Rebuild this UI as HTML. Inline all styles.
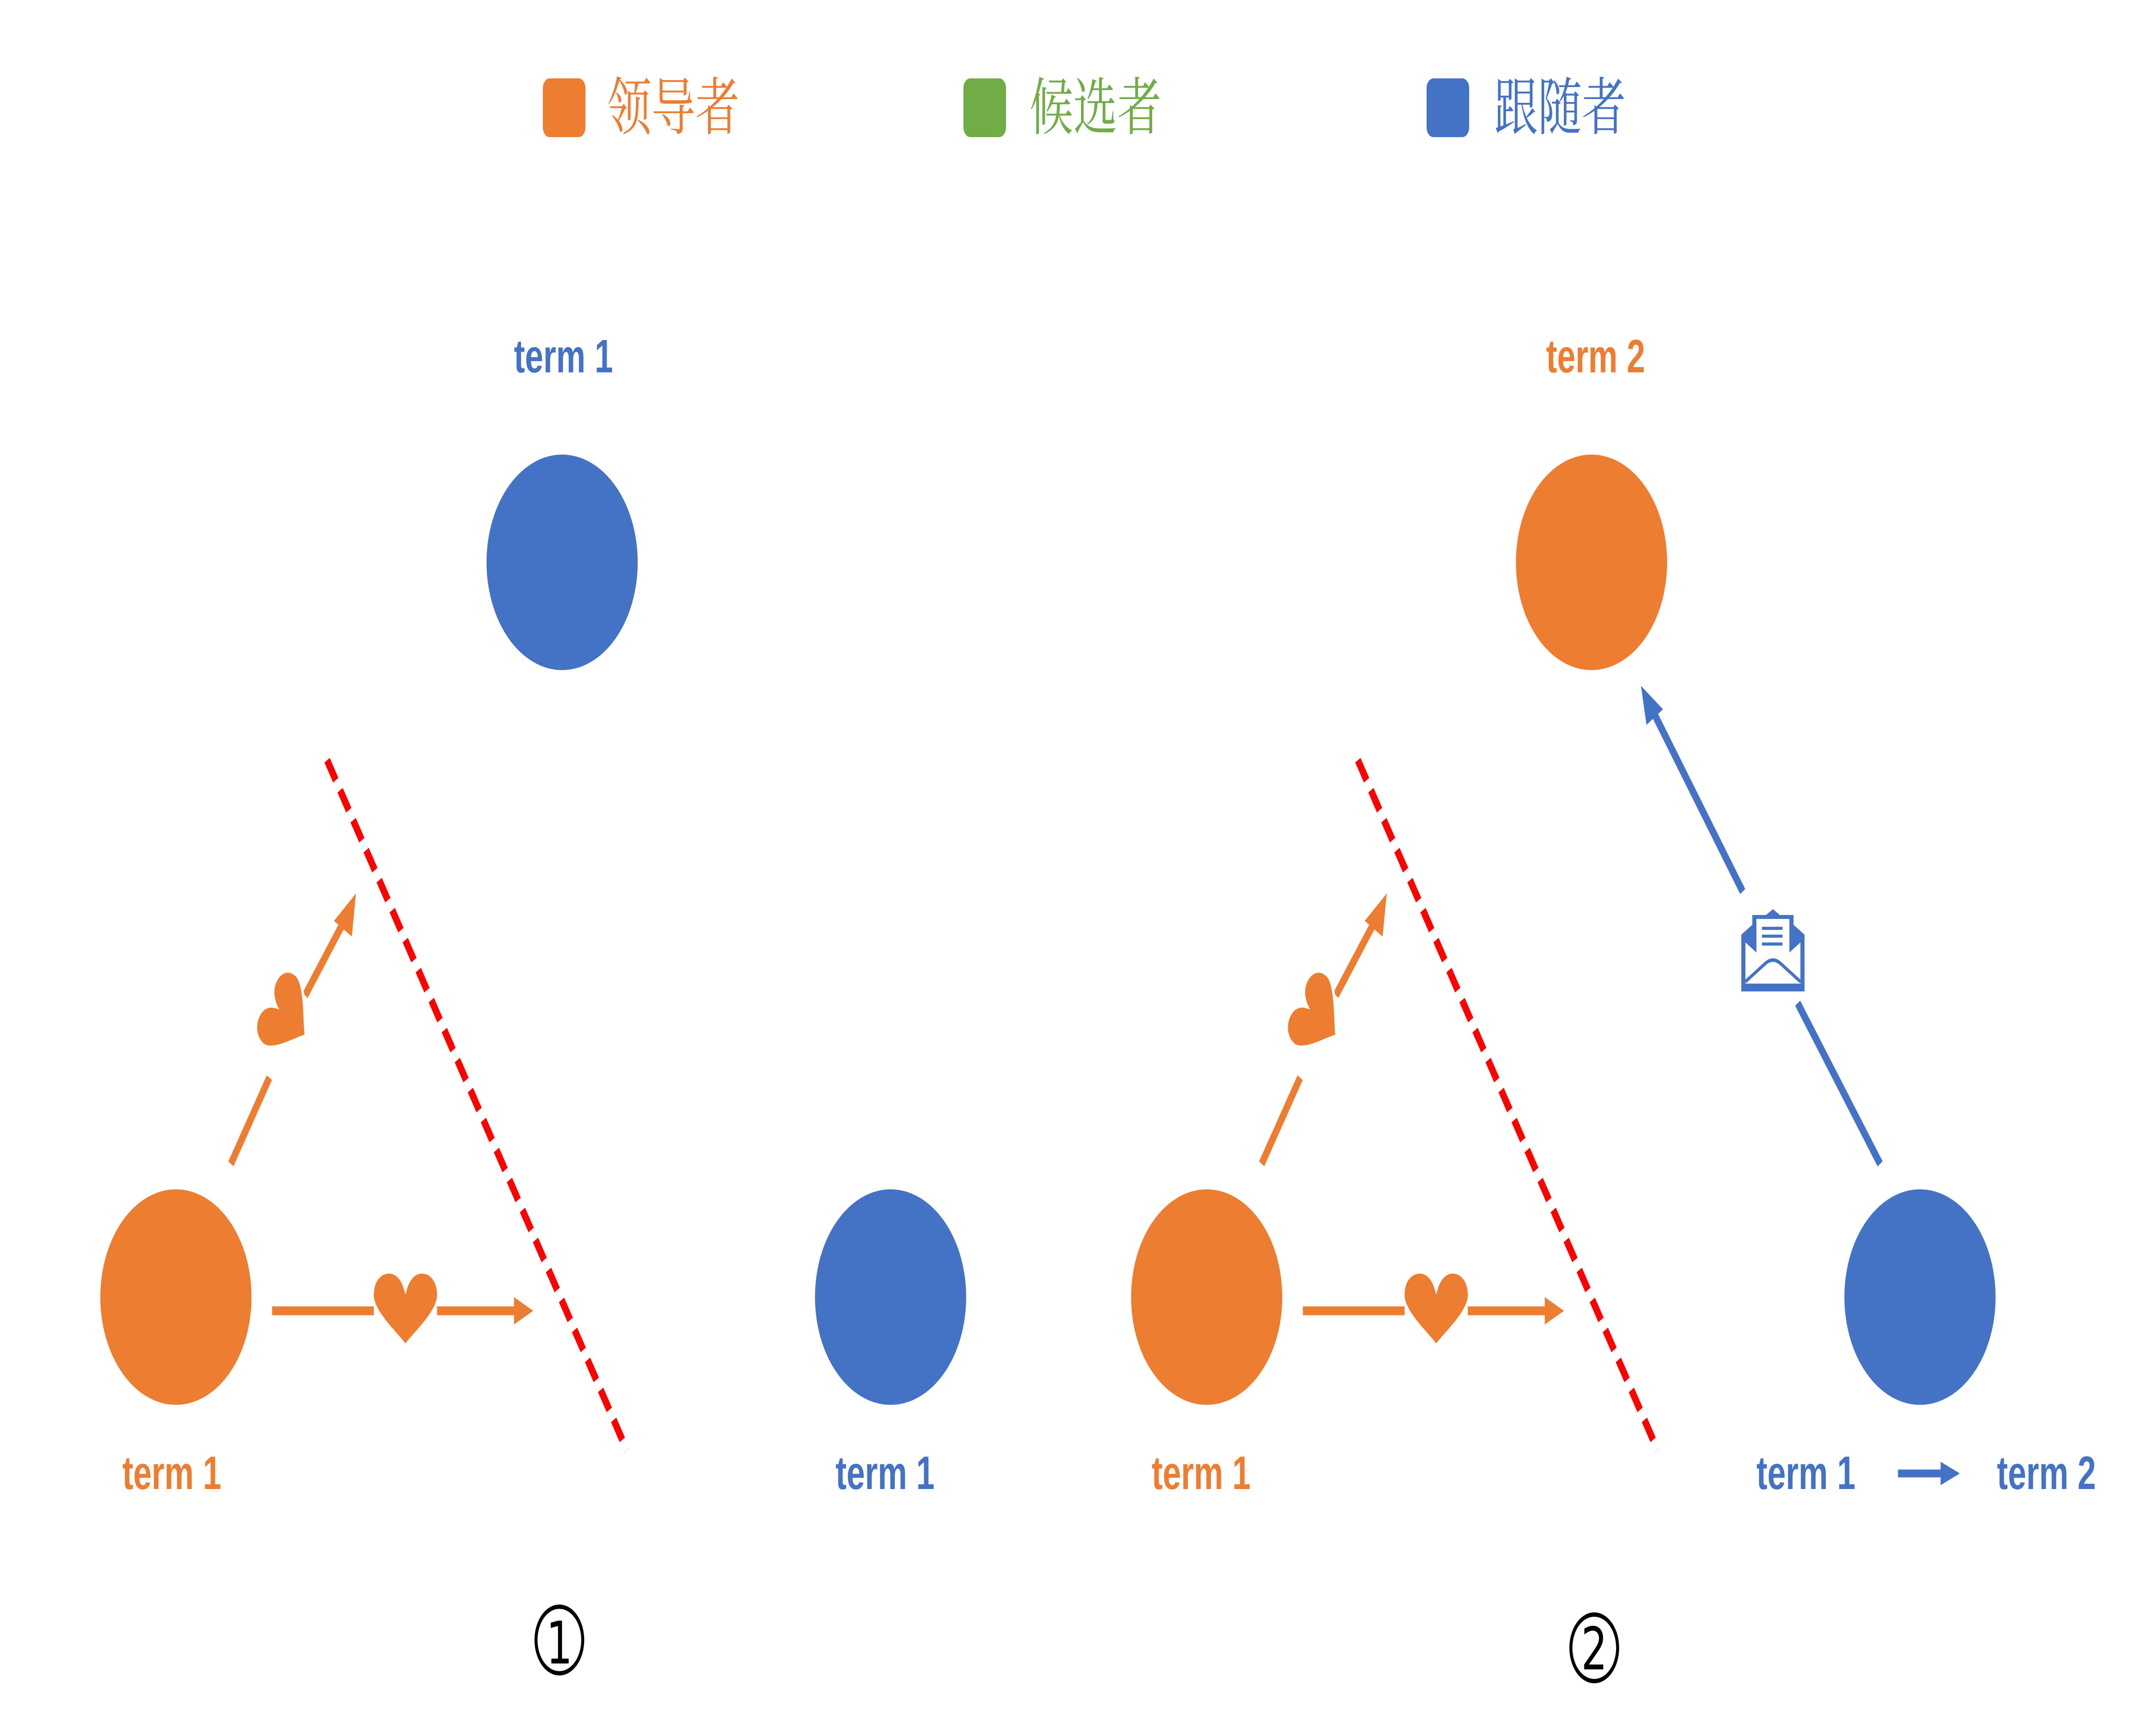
<!DOCTYPE html>
<html><head><meta charset="utf-8"><style>html,body{margin:0;padding:0;background:#fff;width:100vw;height:100vh;overflow:hidden}svg{display:block;width:100vw;height:100vh}</style></head><body>
<svg viewBox="0 0 1560 886" preserveAspectRatio="none" xmlns="http://www.w3.org/2000/svg">
<defs>
<path id="heart" d="M0,17 C-6,11 -24,0 -24,-9 C-24,-17 -18,-21 -12,-21 C-6,-21 -2,-17 0,-12 C2,-17 6,-21 12,-21 C18,-21 24,-17 24,-9 C24,0 6,11 0,17 Z"/>
</defs>
<g font-family="'Liberation Serif','Noto Serif CJK SC',serif" font-size="32">
<rect x="395" y="40" width="31" height="30" rx="5" fill="#ED7D31"/>
<text x="442" y="66" fill="#ED7D31">领导者</text>
<rect x="701" y="40" width="31" height="30" rx="5" fill="#70AD47"/>
<text x="749" y="66" fill="#70AD47">候选者</text>
<rect x="1038" y="40" width="31" height="30" rx="5" fill="#4472C4"/>
<text x="1087" y="66" fill="#4472C4">跟随者</text>
</g>
<g font-family="'Liberation Sans',sans-serif" font-weight="bold" font-size="24" text-anchor="middle">
<text x="410" y="190" fill="#4472C4">term 1</text>
<text x="125" y="760" fill="#ED7D31">term 1</text>
<text x="644" y="760" fill="#4472C4">term 1</text>
<text x="874" y="760" fill="#ED7D31">term 1</text>
<text x="1161" y="190" fill="#ED7D31">term 2</text>
<text x="1314" y="760" fill="#4472C4">term 1</text>
<text x="1489" y="760" fill="#4472C4">term 2</text>
</g>
<line x1="1381" y1="752" x2="1414" y2="752" stroke="#4472C4" stroke-width="4"/>
<polygon points="1412,746 1426,752 1412,758" fill="#4472C4"/>
<circle cx="409" cy="287" r="55" fill="#4472C4"/>
<circle cx="128" cy="662" r="55" fill="#ED7D31"/>
<circle cx="648" cy="662" r="55" fill="#4472C4"/>
<circle cx="878" cy="662" r="55" fill="#ED7D31"/>
<circle cx="1158" cy="287" r="55" fill="#ED7D31"/>
<circle cx="1397" cy="662" r="55" fill="#4472C4"/>
<line x1="238" y1="388" x2="456" y2="740" stroke="#FF0000" stroke-width="4.5" stroke-dasharray="12,6"/>
<line x1="988" y1="388" x2="1206" y2="740" stroke="#FF0000" stroke-width="4.5" stroke-dasharray="12,6"/>
<g fill="#ED7D31" stroke="#ED7D31">
<line x1="168" y1="594" x2="196" y2="550" stroke-width="4.5"/>
<line x1="222" y1="508" x2="252" y2="468" stroke-width="4.5"/>
<polygon points="259,456 256,478 243,470" stroke="none"/>
<use href="#heart" transform="translate(210,520) rotate(-55) scale(0.9)" stroke="#fff" stroke-width="2"/>
<line x1="198" y1="669" x2="272" y2="669" stroke-width="4.5"/>
<line x1="318" y1="669" x2="376" y2="669" stroke-width="4.5"/>
<polygon points="374,662 388,669 374,676" stroke="none"/>
<use href="#heart" transform="translate(295,670)" stroke="#fff" stroke-width="2"/>
</g>
<g fill="#ED7D31" stroke="#ED7D31" transform="translate(750,0)">
<line x1="168" y1="594" x2="196" y2="550" stroke-width="4.5"/>
<line x1="222" y1="508" x2="252" y2="468" stroke-width="4.5"/>
<polygon points="259,456 256,478 243,470" stroke="none"/>
<use href="#heart" transform="translate(210,520) rotate(-55) scale(0.9)" stroke="#fff" stroke-width="2"/>
<line x1="198" y1="669" x2="272" y2="669" stroke-width="4.5"/>
<line x1="318" y1="669" x2="376" y2="669" stroke-width="4.5"/>
<polygon points="374,662 388,669 374,676" stroke="none"/>
<use href="#heart" transform="translate(295,670)" stroke="#fff" stroke-width="2"/>
</g>
<g stroke="#4472C4" stroke-width="4.5" fill="#4472C4">
<line x1="1368" y1="594" x2="1308" y2="512"/>
<line x1="1268" y1="455" x2="1202" y2="362"/>
<polygon points="1194,350 1210,362 1198,370" stroke="none"/>
</g>
<g transform="translate(1290,484)" fill="#4472C4">
<path d="M-23,-7 L-15,-12 L-15,-17 L-5,-17 L0,-20 L5,-17 L15,-17 L15,-12 L23,-7 L23,22 L-23,22 Z"/>
<rect x="-12" y="-15" width="24" height="23" fill="#fff"/>
<rect x="-8" y="-11" width="15" height="1.6"/>
<rect x="-8" y="-7" width="15" height="1.6"/>
<rect x="-8" y="-3" width="15" height="1.6"/>
<path d="M-20,-3 L-6,6 Q0,3 6,6 L20,-3 L20,18 L-20,18 Z" fill="#fff"/>
<path d="M-20,17 L-6,8 Q0,4 6,8 L20,17" fill="none" stroke="#4472C4" stroke-width="1.8"/>
</g>
<g font-family="'DejaVu Sans',sans-serif" text-anchor="middle" fill="#000">
<circle cx="407" cy="837" r="17" fill="none" stroke="#000" stroke-width="2.2"/>
<text x="407" y="849" font-size="30">1</text>
<circle cx="1160" cy="841" r="17" fill="none" stroke="#000" stroke-width="2.2"/>
<text x="1160" y="852" font-size="30">2</text>
</g>
</svg>
</body></html>
